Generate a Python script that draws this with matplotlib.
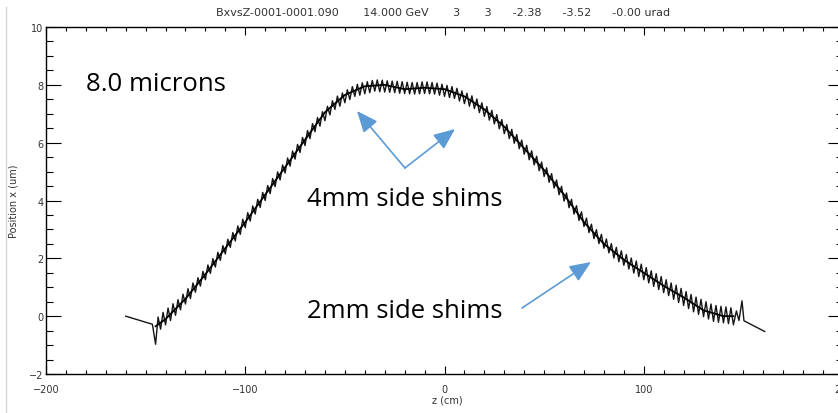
import numpy as np
import matplotlib
matplotlib.use("Agg")
import matplotlib.pyplot as plt
from matplotlib.ticker import MultipleLocator

# ---- data (z in cm, x in um) ----
title = ("BxvsZ-0001-0001.090       14.000 GeV       3       3      "
         "-2.38      -3.52      -0.00 urad")

# straight drift before the undulator
z_lead = [-160.0, -146.6]
x_lead = [0.0, -0.28]

# oscillating trajectory, one value every half period (1.25 cm) from z = -145
z_wig_start = -145.0
z_wig_step = 1.25
x_wig = [
    -0.97, -0.03, -0.45, 0.13, -0.30, 0.28, -0.15, 0.43,
    0.03, 0.57, 0.22, 0.76, 0.42, 0.95, 0.61, 1.15,
    0.83, 1.33, 1.04, 1.55, 1.26, 1.77, 1.48, 1.99,
    1.70, 2.21, 1.93, 2.44, 2.15, 2.66, 2.38, 2.89,
    2.60, 3.12, 2.83, 3.35, 3.06, 3.58, 3.29, 3.81,
    3.53, 4.04, 3.76, 4.28, 4.00, 4.52, 4.24, 4.76,
    4.48, 4.99, 4.71, 5.23, 4.95, 5.47, 5.19, 5.71,
    5.43, 5.94, 5.66, 6.18, 5.90, 6.42, 6.14, 6.66,
    6.38, 6.87, 6.57, 7.07, 6.76, 7.26, 6.96, 7.45,
    7.15, 7.61, 7.26, 7.72, 7.38, 7.83, 7.49, 7.94,
    7.60, 8.02, 7.64, 8.07, 7.69, 8.11, 7.73, 8.15,
    7.78, 8.17, 7.76, 8.16, 7.75, 8.14, 7.74, 8.13,
    7.73, 8.12, 7.71, 8.11, 7.70, 8.09, 7.69, 8.08,
    7.68, 8.08, 7.69, 8.10, 7.70, 8.10, 7.69, 8.08,
    7.68, 8.06, 7.64, 8.02, 7.60, 7.98, 7.56, 7.94,
    7.53, 7.88, 7.44, 7.79, 7.35, 7.71, 7.26, 7.62,
    7.18, 7.51, 7.04, 7.38, 6.91, 7.25, 6.78, 7.12,
    6.65, 6.97, 6.48, 6.80, 6.31, 6.63, 6.14, 6.46,
    5.98, 6.28, 5.79, 6.09, 5.60, 5.91, 5.41, 5.72,
    5.23, 5.53, 5.03, 5.33, 4.83, 5.13, 4.63, 4.93,
    4.43, 4.71, 4.20, 4.49, 3.98, 4.26, 3.75, 4.04,
    3.53, 3.82, 3.31, 3.61, 3.10, 3.39, 2.89, 3.18,
    2.68, 2.99, 2.51, 2.83, 2.35, 2.67, 2.19, 2.51,
    2.01, 2.38, 1.88, 2.26, 1.76, 2.13, 1.63, 2.01,
    1.49, 1.91, 1.37, 1.80, 1.26, 1.68, 1.15, 1.57,
    1.03, 1.47, 0.92, 1.37, 0.81, 1.26, 0.71, 1.15,
    0.58, 1.07, 0.47, 0.96, 0.37, 0.85, 0.26, 0.75,
    0.15, 0.66, 0.06, 0.58, -0.02, 0.50, -0.10, 0.42,
    -0.18, 0.37, -0.21, 0.34, -0.23, 0.32, -0.26, 0.29,
]

# end kick and drift after the undulator
z_tail = [145.0, 146.5, 147.8, 149.3, 150.3, 160.7]
x_tail = [-0.30, 0.18, -0.15, 0.53, -0.16, -0.53]

# averaged trajectory
z_mean = [-145, -140, -130, -120, -110, -100, -90, -80, -70, -60, -50, -40, -30,
          -20, -10, 0, 10, 20, 30, 40, 50, 60, 70, 80, 90, 100, 110, 120, 130, 140, 145]
x_mean = [-0.35, -0.1, 0.6, 1.45, 2.35, 3.25, 4.2, 5.15, 6.1, 7.05, 7.65, 7.95, 8.0,
          7.85, 7.9, 7.85, 7.6, 7.15, 6.55, 5.8, 5.05, 4.2, 3.25, 2.5, 1.95, 1.5,
          1.05, 0.65, 0.2, 0.0, 0.0]

# ---- figure ----
W, H = 838, 414
fig = plt.figure(figsize=(W / 100, H / 100), dpi=100)
ax = fig.add_axes([46 / W, 1 - 375 / H, 797 / W, 347 / H])

z_wig = z_wig_start + z_wig_step * np.arange(len(x_wig))
z_all = np.concatenate([z_lead, z_wig, z_tail])
x_all = np.concatenate([x_lead, x_wig, x_tail])

ax.plot(z_all, x_all, color="#151515", lw=1.0)
ax.plot(z_mean, x_mean, color="black", lw=1.3)

ax.set_xlim(-200, 200)
ax.set_ylim(-2, 10)
ax.xaxis.set_major_locator(MultipleLocator(100))
ax.xaxis.set_minor_locator(MultipleLocator(10))
ax.yaxis.set_major_locator(MultipleLocator(2))
ax.yaxis.set_minor_locator(MultipleLocator(0.5))

ax.tick_params(which="both", direction="in", top=True, right=True, width=0.8,
               colors="black", labelcolor="#333333", labelsize=7)
ax.tick_params(axis="x", which="major", length=5.5, pad=7)
ax.tick_params(axis="x", which="minor", length=3)
ax.tick_params(axis="y", which="major", length=10.5, pad=2)
ax.tick_params(axis="y", which="minor", length=5)
for s in ax.spines.values():
    s.set_linewidth(1.0)

ax.set_xlabel("z (cm)", fontsize=7, color="#333333")
ax.xaxis.set_label_coords((447 - 46) / 797, -(401 - 375) / 347)
ax.xaxis.label.set_va("center")
ax.set_ylabel("Position x (um)", fontsize=7, color="#333333")
ax.yaxis.set_label_coords((14 - 46) / 797, 0.5)
ax.yaxis.label.set_va("center")

fig.text(443 / W, 1 - 13 / H, title, fontsize=8, color="#333333",
         ha="center", va="center")

# left frame line of the screenshot
fig.add_artist(plt.Line2D([6 / W, 6 / W], [0, 1 - 8 / H], color="#d4d4d4", lw=1))

# annotations
font = ["Open Sans", "DejaVu Sans"]
fig.text(86 / W, 1 - 91 / H, "8.0 microns", fontsize=18.5, family=font, va="baseline")
fig.text(307 / W, 1 - 206 / H, "4mm side shims", fontsize=18.5, family=font, va="baseline")
fig.text(307 / W, 1 - 318 / H, "2mm side shims", fontsize=18.5, family=font, va="baseline")

arrow = dict(arrowstyle="-|>,head_length=1.3,head_width=0.55", color="#5B9BD5",
             lw=1.2, shrinkA=0, shrinkB=0, mutation_scale=10)
for (x0, y0), (x1, y1) in [((405, 169), (357, 112)),
                           ((405, 169), (455, 130)),
                           ((522, 309), (591, 263))]:
    ax.annotate("", xy=(x1, H - y1), xycoords="figure pixels",
                xytext=(x0, H - y0), textcoords="figure pixels",
                arrowprops=arrow, annotation_clip=False)

fig.savefig("out.png", dpi=100)
